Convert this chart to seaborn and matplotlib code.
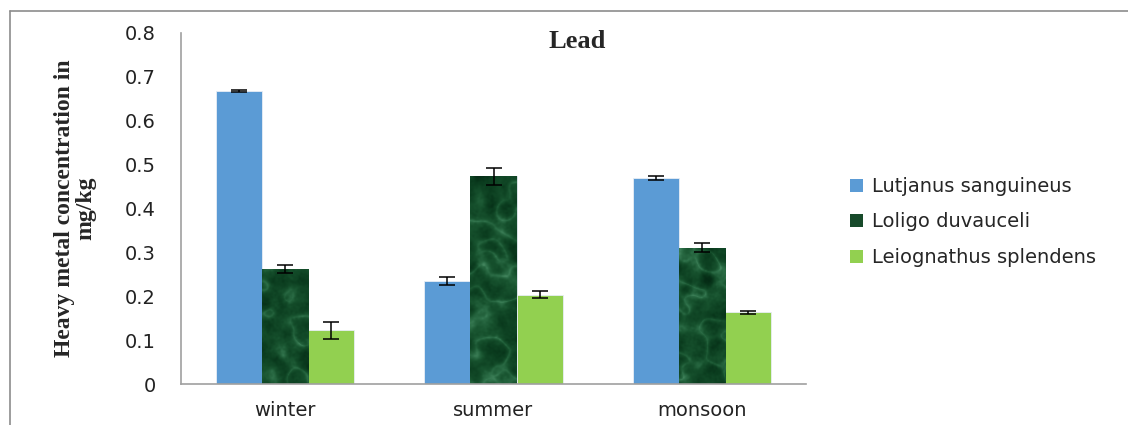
import numpy as np
import pandas as pd
import matplotlib
matplotlib.use("Agg")
import matplotlib.pyplot as plt
from matplotlib.colors import LinearSegmentedColormap
from matplotlib.patches import Patch
from matplotlib.lines import Line2D
import seaborn as sns

# Lead concentration (mg/kg) by season and species
seasons = ["winter", "summer", "monsoon"]
species = ["Lutjanus sanguineus", "Loligo duvauceli", "Leiognathus splendens"]
lutjanus = [0.668, 0.235, 0.470]
loligo = [0.262, 0.473, 0.311]
leiognathus = [0.122, 0.203, 0.163]
lutjanus_err = [0.002, 0.009, 0.004]
loligo_err = [0.010, 0.020, 0.010]
leiognathus_err = [0.020, 0.008, 0.004]
y_ticks = [0, 0.1, 0.2, 0.3, 0.4, 0.5, 0.6, 0.7, 0.8]
y_tick_labels = ["0", "0.1", "0.2", "0.3", "0.4", "0.5", "0.6", "0.7", "0.8"]

values = [lutjanus, loligo, leiognathus]
errors = [lutjanus_err, loligo_err, leiognathus_err]
df = pd.DataFrame({
    "season": [s for _ in species for s in seasons],
    "species": [sp for sp in species for _ in seasons],
    "value": [v for vals in values for v in vals],
})

sns.set_theme(style="white")
plt.rcParams["font.family"] = ["DejaVu Sans"]
serif = ["Liberation Serif", "DejaVu Serif"]
sans_size = 14

blue = "#5B9BD5"
dark_green = "#174a2a"
light_green = "#92D050"
palette = {species[0]: blue, species[1]: dark_green, species[2]: light_green}

fig = plt.figure(figsize=(11.28, 4.25), dpi=100)
ax = fig.add_axes([181 / 1128, 1 - 384 / 425, (806 - 181) / 1128, (384 - 33) / 425])

sns.barplot(data=df, x="season", y="value", hue="species", order=seasons,
            hue_order=species, palette=palette, width=0.663, gap=0,
            saturation=1, legend=False, errorbar=None, ax=ax,
            linewidth=0.6, edgecolor="#e8eef5")


def smooth_noise(rng, shape, cutoff):
    noise = rng.standard_normal(shape)
    fy = np.fft.fftfreq(shape[0])[:, None]
    fx = np.fft.fftfreq(shape[1])[None, :]
    filt = np.exp(-(fx ** 2 + fy ** 2) / cutoff ** 2)
    out = np.real(np.fft.ifft2(np.fft.fft2(noise) * filt))
    return (out - out.min()) / (out.max() - out.min())


# mottled marble texture for the squid bars
rng = np.random.default_rng(11)
shape = (360, 640)
mottle = smooth_noise(rng, shape, 0.05)
veins = 1 - np.abs(smooth_noise(rng, shape, 0.035) - 0.5) * 2
veins = veins ** 7
fine = smooth_noise(rng, shape, 0.25)
tex = np.clip(0.55 * mottle + 0.35 * veins + 0.2 * fine - 0.1, 0, 1)
marble = LinearSegmentedColormap.from_list(
    "marble", ["#032612", "#0b3d1f", "#17522e", "#2e7049", "#5a9c75"])

for container, err in zip(ax.containers, errors):
    for bar, e in zip(container, err):
        x0 = bar.get_x()
        w = bar.get_width()
        h = bar.get_height()
        if bar.get_facecolor()[:3] == matplotlib.colors.to_rgb(dark_green):
            im = ax.imshow(tex, cmap=marble, extent=[-0.5, 2.5, 0, 0.8],
                           aspect="auto", origin="lower", zorder=bar.get_zorder(),
                           interpolation="bilinear")
            im.set_clip_path(bar)
        ax.errorbar(x0 + w / 2, h, yerr=e, fmt="none", ecolor="black",
                    elinewidth=1.1, capsize=6, capthick=1.1, zorder=5)

ax.set_xlim(-0.5, 2.5)
ax.set_ylim(0, 0.8)
ax.set_yticks(y_ticks)
ax.set_yticklabels(y_tick_labels, fontsize=sans_size, color="#222222")
ax.set_xticks([-0.5, 0.5, 1.5, 2.5])
ax.set_xticklabels([])
ax.set_xticks([0, 1, 2], minor=True)
ax.set_xticklabels(seasons, minor=True, fontsize=sans_size, color="#222222")
ax.tick_params(axis="x", which="minor", length=0, pad=12)
ax.tick_params(axis="x", which="major", direction="out", length=7,
               color="#a0a0a0", width=1)
ax.tick_params(axis="y", direction="out", length=7, color="#a0a0a0",
               width=1, pad=11)
ax.set_xlabel("")
ax.set_ylabel("")
for side in ["top", "right"]:
    ax.spines[side].set_visible(False)
for side in ["left", "bottom"]:
    ax.spines[side].set_color("#a0a0a0")
    ax.spines[side].set_linewidth(1.2)

fig.text(577 / 1128, 1 - 42 / 425, "Lead", ha="center", va="center",
         fontsize=19, fontweight="bold", family=serif)
fig.text(75 / 1128, 1 - 208 / 425, "Heavy metal concentration in\nmg/kg",
         ha="center", va="center", rotation=90, fontsize=17,
         fontweight="bold", linespacing=1.0, family=serif)

handles = [Patch(facecolor=palette[sp], edgecolor="none") for sp in species]
fig.legend(handles, species, loc="center left",
           bbox_to_anchor=(850 / 1128, 1 - 222 / 425), frameon=False,
           fontsize=sans_size, handlelength=0.67, handleheight=0.67,
           handletextpad=0.46, labelspacing=0.85, borderpad=0,
           borderaxespad=0)

# outer frame lines
fig.add_artist(Line2D([10 / 1128, 1], [1 - 11 / 425, 1 - 11 / 425],
                      transform=fig.transFigure, color="#8c8c8c", lw=1.2))
fig.add_artist(Line2D([10 / 1128, 10 / 1128], [0, 1 - 11 / 425],
                      transform=fig.transFigure, color="#8c8c8c", lw=1.2))

fig.savefig("out.png", dpi=100)
